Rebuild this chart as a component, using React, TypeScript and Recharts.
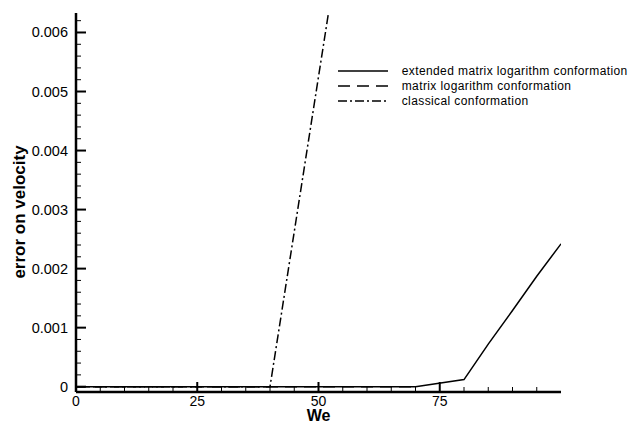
import React from 'react';
import { LineChart, Line, XAxis, YAxis, Legend } from 'recharts';

// ---- data ----
const extendedWe = [0, 70, 80, 85, 90, 95, 100];
const extendedErr = [0, 0, 0.00012, 0.00072, 0.00129, 0.00187, 0.00242];

const matrixLogWe = [0, 70];
const matrixLogErr = [0, 0];

const classicalWe = [0, 40, 52];
const classicalErr = [0, 0, 0.0063];

const seriesNames = [
  'extended matrix logarithm conformation',
  'matrix logarithm conformation',
  'classical conformation',
];

const xMajorTicks = [0, 25, 50, 75];
const xMajorLabels = ['0', '25', '50', '75'];
const xMinorTicks = [5, 10, 15, 20, 30, 35, 40, 45, 55, 60, 65, 70, 80, 85, 90, 95];

const yMajorTicks = [0, 0.001, 0.002, 0.003, 0.004, 0.005, 0.006];
const yMajorLabels = ['0', '0.001', '0.002', '0.003', '0.004', '0.005', '0.006'];
const yMinorTicks = [
  0.0002, 0.0004, 0.0006, 0.0008, 0.0012, 0.0014, 0.0016, 0.0018,
  0.0022, 0.0024, 0.0026, 0.0028, 0.0032, 0.0034, 0.0036, 0.0038,
  0.0042, 0.0044, 0.0046, 0.0048, 0.0052, 0.0054, 0.0056, 0.0058, 0.0062,
];

const toRows = (xs: number[], ys: number[]) => xs.map((we, i) => ({ we, err: ys[i] }));
const extendedData = toRows(extendedWe, extendedErr);
const matrixLogData = toRows(matrixLogWe, matrixLogErr);
const classicalData = toRows(classicalWe, classicalErr);

const FONT = '"Liberation Sans", Arial, Helvetica, sans-serif';
const DASHED = '12 7';
const DASHDOT = '9 3 2 3';

const findLabel = (ticks: number[], labels: string[], v: number) => {
  const i = ticks.findIndex((t) => Math.abs(t - v) < 1e-9);
  return i >= 0 ? labels[i] : null;
};

const XTick = (props: any) => {
  const { x, y, payload } = props;
  const label = findLabel(xMajorTicks, xMajorLabels, payload.value);
  const len = label !== null ? 10 : 5;
  return (
    <g>
      <line x1={x} y1={y} x2={x} y2={y - len} stroke="#000" strokeWidth={label !== null ? 2 : 1} />
      {label !== null && (
        <text x={x} y={y + 13.5} textAnchor="middle" fontFamily={FONT} fontSize={14} fill="#000">
          {label}
        </text>
      )}
    </g>
  );
};

const YTick = (props: any) => {
  const { x, y, payload } = props;
  const label = findLabel(yMajorTicks, yMajorLabels, payload.value);
  const len = label !== null ? 10 : 5;
  return (
    <g>
      <line x1={x} y1={y} x2={x + len} y2={y} stroke="#000" strokeWidth={label !== null ? 2 : 1} />
      {label !== null && (
        <text x={x - 8} y={y + 5} textAnchor="end" fontFamily={FONT} fontSize={14.5} fill="#000">
          {label}
        </text>
      )}
    </g>
  );
};

const LegendContent = () => {
  const dashes = [undefined, DASHED, DASHDOT];
  return (
    <svg width={300} height={46} style={{ display: 'block' }}>
      {seriesNames.map((name, i) => {
        const cy = 8 + i * 15;
        return (
          <g key={name}>
            <line x1={2} y1={cy} x2={52} y2={cy} stroke="#000" strokeWidth={1.5} strokeDasharray={dashes[i]} />
            <text x={65.7} y={cy + 4} fontFamily={FONT} fontSize={12} letterSpacing={0.4} fill="#000">
              {name}
            </text>
          </g>
        );
      })}
    </svg>
  );
};

const XLabel = (props: any) => {
  const vb = props.viewBox || {};
  const cx = (vb.x ?? 76) + (vb.width ?? 485) / 2;
  return (
    <text x={cx} y={421} textAnchor="middle" fontFamily={FONT} fontWeight="bold" fontSize={16} fill="#000">
      We
    </text>
  );
};

const YLabel = () => (
  <text
    x={19}
    y={212}
    transform="rotate(-90 19 212)"
    textAnchor="middle"
    dominantBaseline="central"
    fontFamily={FONT}
    fontWeight="bold"
    fontSize={17}
    fill="#000"
  >
    error on velocity
  </text>
);

export default function App() {
  return (
    <div style={{ position: 'absolute', left: 0, top: 0, width: 630, height: 425, background: '#fff' }}>
      <LineChart width={630} height={425} margin={{ top: 13, right: 69, bottom: 0, left: 0 }}>
        <XAxis
          dataKey="we"
          type="number"
          domain={[0, 100]}
          allowDataOverflow
          ticks={[...xMajorTicks, ...xMinorTicks]}
          interval={0}
          tickSize={0}
          tickMargin={0}
          tickLine={false}
          tick={<XTick />}
          height={33}
          axisLine={{ stroke: '#000', strokeWidth: 2.5 }}
          label={<XLabel />}
        />
        <YAxis
          type="number"
          domain={[-0.00009, 0.00633]}
          allowDataOverflow
          ticks={[...yMajorTicks, ...yMinorTicks]}
          interval={0}
          tickSize={0}
          tickMargin={0}
          tickLine={false}
          tick={<YTick />}
          width={76}
          axisLine={{ stroke: '#000', strokeWidth: 2.5 }}
          label={<YLabel />}
        />
        <Legend
          layout="vertical"
          align="center"
          verticalAlign="middle"
          content={<LegendContent />}
          wrapperStyle={{ left: 336, top: 63, width: 300, height: 46 }}
        />
        <Line
          data={classicalData}
          dataKey="err"
          name={seriesNames[2]}
          stroke="#000"
          strokeWidth={1.5}
          strokeDasharray={DASHDOT}
          dot={false}
          activeDot={false}
          isAnimationActive={false}
          type="linear"
        />
        <Line
          data={matrixLogData}
          dataKey="err"
          name={seriesNames[1]}
          stroke="#000"
          strokeWidth={1.5}
          strokeDasharray={DASHED}
          dot={false}
          activeDot={false}
          isAnimationActive={false}
          type="linear"
        />
        <Line
          data={extendedData}
          dataKey="err"
          name={seriesNames[0]}
          stroke="#000"
          strokeWidth={1.5}
          dot={false}
          activeDot={false}
          isAnimationActive={false}
          type="linear"
        />
      </LineChart>
    </div>
  );
}
